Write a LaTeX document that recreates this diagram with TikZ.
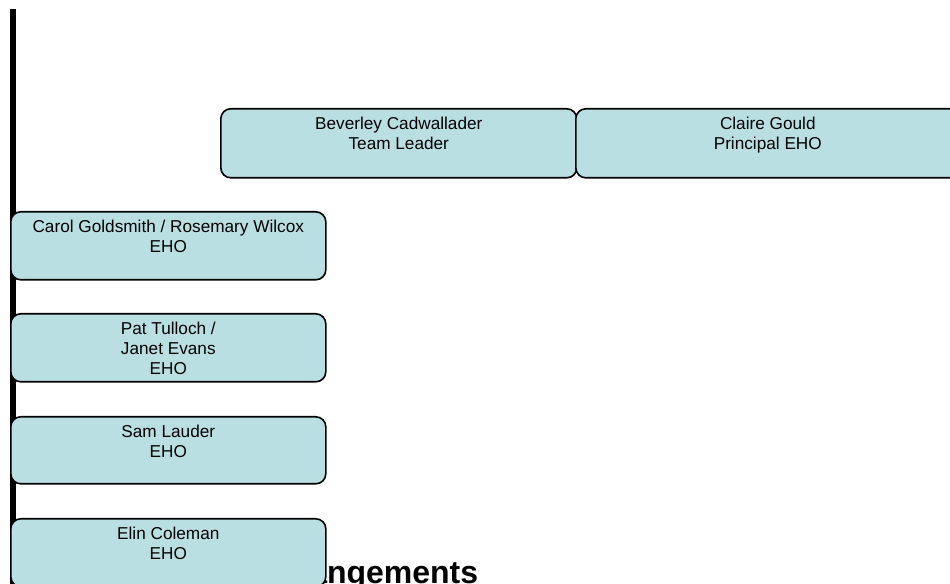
\documentclass[tikz,border=0pt]{standalone}
\usepackage{fontspec}
\setmainfont{Liberation Sans}
\definecolor{boxfill}{RGB}{185,223,227}
\newcommand{\boxtxt}[3]{\parbox[c][#2][t]{#1}{\centering\rule{0pt}{15.4pt}#3}}
\tikzset{
  orgbox/.style={draw=black, line width=1.2pt, fill=boxfill, rounded corners=7.5pt,
    inner sep=0pt, anchor=north west, font=\fontsize{12.9}{15}\selectfont},
  bigtext/.style={font=\fontsize{24}{28}\selectfont\bfseries, anchor=base west, inner sep=0pt}
}
\begin{document}
\begin{tikzpicture}[x=0.75pt,y=-0.75pt]
\useasboundingbox (0,0) rectangle (950,584);
\clip (0,0) rectangle (950,584);
\fill[white] (0,0) rectangle (950,584);
% vertical bar
\draw[line width=4.5pt] (13,9) -- (13,590);
% partially hidden heading
\node[bigtext] (heading) at (309,583) {angements};
% boxes
\node[orgbox] (bev) at (220,108) {\boxtxt{267pt}{51.75pt}{Beverley Cadwallader\\Team Leader}};
\node[orgbox] (claire) at (575,108) {\boxtxt{288pt}{51.75pt}{Claire Gould\\Principal EHO}};
\node[orgbox] (carol) at (10,211) {\boxtxt{236.25pt}{51pt}{Carol Goldsmith / Rosemary Wilcox\\EHO}};
\node[orgbox] (pat) at (10,313) {\boxtxt{236.25pt}{51pt}{Pat Tulloch /\\Janet Evans\\EHO}};
\node[orgbox] (sam) at (10,416) {\boxtxt{236.25pt}{50.25pt}{Sam Lauder\\EHO}};
\node[orgbox] (elin) at (10,518) {\boxtxt{236.25pt}{51pt}{Elin Coleman\\EHO}};
\end{tikzpicture}
\end{document}
